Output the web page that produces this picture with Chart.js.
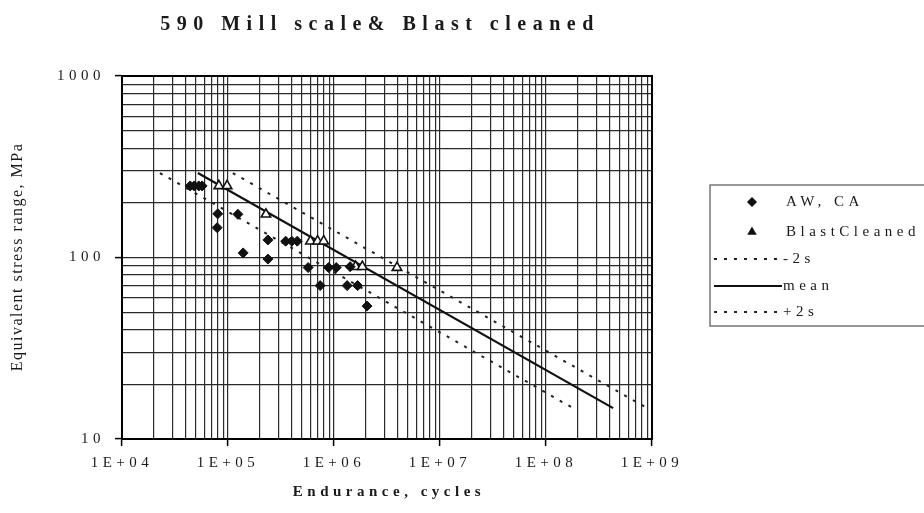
<!DOCTYPE html>
<html>
<head>
<meta charset="utf-8">
<title>590 Mill scale & Blast cleaned</title>
<script src="https://cdn.jsdelivr.net/npm/chart.js@4.4.0/dist/chart.umd.min.js"></script>
<style>
  html, body { margin: 0; padding: 0; background: #fff; }
  #wrap { width: 924px; height: 513px; }
</style>
</head>
<body>
<div id="wrap"><canvas id="snChart" width="924" height="513"></canvas></div>
<script>
// AW, CA results (endurance in cycles, stress range in MPa)
const awCycles = [44000, 48000, 53000, 57000, 80000, 124000, 79000, 139000, 238000, 238000,
    350000, 400000, 450000, 570000, 890000, 1050000, 1420000, 740000, 1330000, 1670000, 2050000];
const awStress = [248, 248, 248, 248, 174, 173, 146, 106, 125, 98,
    123, 123, 123, 88, 88, 88, 89, 70, 70, 70, 54];

// Blast cleaned results
const bcCycles = [82000, 98000, 228000, 600000, 700000, 800000, 1600000, 1850000, 3930000];
const bcStress = [248, 248, 173, 123, 123, 123, 89, 89, 88];

// design curves, two end points each
const lineStress = [292, 14.8];
const minus2sCycles = [22800, 180000000];
const meanCycles = [52000, 430000000];
const plus2sCycles = [111000, 900000000];

// axis ticks
const xTickValues = [1e4, 1e5, 1e6, 1e7, 1e8, 1e9];
const xTickLabels = ['1E+04', '1E+05', '1E+06', '1E+07', '1E+08', '1E+09'];
const yTickValues = [10, 100, 1000];
const yTickLabels = ['10', '100', '1000'];

const FONT = 'Liberation Serif';

function toPoints(xs, ys) {
    return xs.map((x, i) => ({ x: x, y: ys[i] }));
}

// gridlines at 1..9 of every decade
function logGrid(majors) {
    const out = [];
    for (let i = 0; i < majors.length; i++) {
        out.push({ value: majors[i], major: true });
        if (i < majors.length - 1) {
            for (let k = 2; k <= 9; k++) out.push({ value: majors[i] * k, major: false });
        }
    }
    return out;
}

// title, axis titles, frame and boxed legend
const paperText = {
    id: 'paperText',
    beforeDraw(chart) {
        chart.ctx.letterSpacing = '4.5px';
    },
    beforeDatasetsDraw(chart) {
        chart.ctx.letterSpacing = '0px';
    },
    afterDraw(chart) {
        const { ctx, chartArea } = chart;
        ctx.save();

        ctx.strokeStyle = '#000';
        ctx.lineWidth = 2;
        ctx.setLineDash([]);
        ctx.strokeRect(chartArea.left, chartArea.top,
            chartArea.right - chartArea.left, chartArea.bottom - chartArea.top);

        ctx.fillStyle = '#1a1a1a';
        ctx.textBaseline = 'middle';

        // chart title
        ctx.textAlign = 'center';
        ctx.letterSpacing = '6.5px';
        ctx.font = 'bold 20px "' + FONT + '"';
        ctx.fillText('590 Mill scale& Blast cleaned', 380, 25);

        // x axis title
        ctx.letterSpacing = '4.5px';
        ctx.font = 'bold 15px "' + FONT + '"';
        ctx.fillText('Endurance, cycles', 389, 492);

        // y axis title
        ctx.save();
        ctx.translate(18, 257);
        ctx.rotate(-Math.PI / 2);
        ctx.letterSpacing = '1.5px';
        ctx.font = '16px "' + FONT + '"';
        ctx.fillText('Equivalent stress range, MPa', 0, 0);
        ctx.restore();

        // legend box
        ctx.strokeStyle = '#777';
        ctx.lineWidth = 1.5;
        ctx.strokeRect(710, 185, 230, 141);

        const rowY = [202, 232, 259, 286, 312];
        ctx.textAlign = 'left';
        ctx.letterSpacing = '4.5px';
        ctx.font = '15px "' + FONT + '"';
        chart.data.datasets.forEach((ds, i) => {
            const y = rowY[i];
            if (ds.showLine) {
                ctx.strokeStyle = ds.borderColor;
                ctx.lineWidth = ds.borderWidth;
                ctx.setLineDash(ds.borderDash || []);
                ctx.beginPath();
                ctx.moveTo(714, y);
                ctx.lineTo(782, y);
                ctx.stroke();
                ctx.setLineDash([]);
                ctx.fillStyle = '#1a1a1a';
                ctx.fillText(ds.label, 783, y);
            } else {
                ctx.fillStyle = '#111';
                ctx.strokeStyle = '#111';
                Chart.helpers.drawPoint(ctx, {
                    pointStyle: ds.pointStyle, radius: 4, rotation: 0, borderWidth: 1
                }, 752, y);
                ctx.fillStyle = '#1a1a1a';
                ctx.fillText(ds.label, 786, y);
            }
        });

        ctx.restore();
    }
};

const axisFont = { family: FONT, size: 15 };
const gridStyle = {
    color: '#2a2a2a',
    lineWidth: 1.2,
    tickLength: 7,
    tickWidth: 1.5,
    tickColor: (ctx) => (ctx.tick && ctx.tick.major ? '#000' : 'rgba(0,0,0,0)')
};

new Chart(document.getElementById('snChart'), {
    type: 'scatter',
    data: {
        datasets: [
            {
                label: 'AW, CA',
                data: toPoints(awCycles, awStress),
                pointStyle: 'rectRot',
                pointRadius: 5,
                backgroundColor: '#111',
                borderColor: '#111',
                borderWidth: 1
            },
            {
                label: 'BlastCleaned',
                data: toPoints(bcCycles, bcStress),
                pointStyle: 'triangle',
                pointRadius: 5.5,
                backgroundColor: '#fff',
                borderColor: '#111',
                borderWidth: 1.6
            },
            {
                label: '-2s',
                data: toPoints(minus2sCycles, lineStress),
                showLine: true,
                pointRadius: 0,
                borderColor: '#222',
                borderWidth: 2,
                borderDash: [3, 7]
            },
            {
                label: 'mean',
                data: toPoints(meanCycles, lineStress),
                showLine: true,
                pointRadius: 0,
                borderColor: '#111',
                borderWidth: 2.2
            },
            {
                label: '+2s',
                data: toPoints(plus2sCycles, lineStress),
                showLine: true,
                pointRadius: 0,
                borderColor: '#222',
                borderWidth: 2,
                borderDash: [3, 7]
            }
        ]
    },
    options: {
        responsive: false,
        animation: false,
        layout: { padding: { top: 76, right: 272, left: 0, bottom: 0 } },
        plugins: {
            legend: { display: false },
            tooltip: { enabled: false }
        },
        scales: {
            x: {
                type: 'logarithmic',
                min: 1e4,
                max: 1e9,
                afterBuildTicks: (scale) => { scale.ticks = logGrid(xTickValues); },
                afterFit: (scale) => { scale.height = 74; },
                grid: gridStyle,
                border: { color: '#000', width: 2 },
                ticks: {
                    autoSkip: false,
                    maxRotation: 0,
                    padding: 8,
                    color: '#1a1a1a',
                    font: axisFont,
                    callback: (value) => {
                        const i = xTickValues.indexOf(value);
                        return i >= 0 ? xTickLabels[i] : '';
                    }
                }
            },
            y: {
                type: 'logarithmic',
                min: 10,
                max: 1000,
                afterBuildTicks: (scale) => { scale.ticks = logGrid(yTickValues); },
                afterFit: (scale) => { scale.width = 122; },
                grid: gridStyle,
                border: { color: '#000', width: 2 },
                ticks: {
                    autoSkip: false,
                    padding: 10,
                    color: '#1a1a1a',
                    font: axisFont,
                    callback: (value) => {
                        const i = yTickValues.indexOf(value);
                        return i >= 0 ? yTickLabels[i] : '';
                    }
                }
            }
        }
    },
    plugins: [paperText]
});
</script>
</body>
</html>
